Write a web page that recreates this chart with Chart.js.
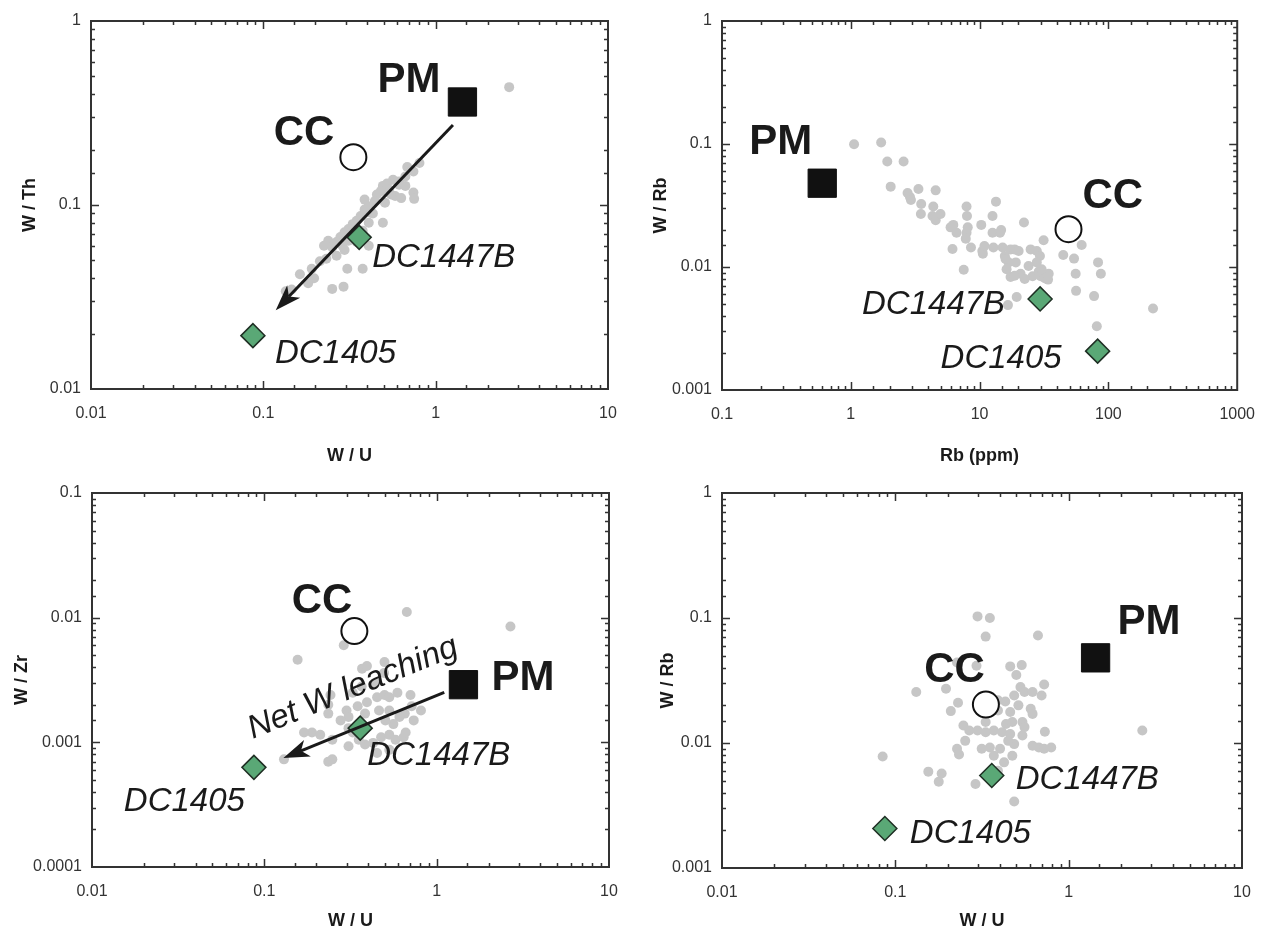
<!DOCTYPE html>
<html>
<head>
<meta charset="utf-8">
<script src="https://cdn.jsdelivr.net/npm/chart.js@4.4.1/dist/chart.umd.min.js"></script>
<style>
  body { margin: 0; background: #fff; }
  #wrap { position: relative; width: 1270px; height: 930px; }
  .panel { position: absolute; width: 635px; height: 465px; }
</style>
</head>
<body>
<div id="wrap">
  <div class="panel" style="left:0;top:0"><canvas id="c1" width="635" height="465"></canvas></div>
  <div class="panel" style="left:635px;top:0"><canvas id="c2" width="635" height="465"></canvas></div>
  <div class="panel" style="left:0;top:465px"><canvas id="c3" width="635" height="465"></canvas></div>
  <div class="panel" style="left:635px;top:465px"><canvas id="c4" width="635" height="465"></canvas></div>
</div>
<script>
// reference compositions: primitive mantle, continental crust, two samples
const refNames = ['PM', 'CC', 'DC1447B', 'DC1405'];
const refWU  = [1.43, 0.333, 0.36, 0.087];
const refWTh = [0.363, 0.182, 0.0667, 0.0195];
const refRb  = [0.6, 49, 29.5, 82.5];
const refWRb = [0.048, 0.0203, 0.0055, 0.00207];
const refWZr = [0.0029, 0.0078, 0.0013, 0.00063];

// whole-rock samples, W/U vs W/Th
const p1WU = [2.67,0.805,0.684,0.743,0.667,0.614,0.566,0.522,0.494,0.536,0.481,0.456,0.614,0.667,0.582,0.631,0.743,0.75,0.444,0.409,
  0.387,0.421,0.367,0.348,0.33,0.312,0.296,0.33,0.312,0.348,0.28,0.266,0.238,0.225,0.251,0.288,0.409,0.432,0.494,0.409,
  0.377,0.232,0.213,0.191,0.163,0.197,0.182,0.146,0.135,0.307,0.377,0.251,0.292,0.266,0.296,0.338,0.387,0.508,0.551];
const p1WTh = [0.437,0.169,0.161,0.152,0.143,0.134,0.137,0.131,0.127,0.121,0.119,0.114,0.129,0.127,0.112,0.109,0.117,0.108,0.105,0.0986,
  0.0946,0.0908,0.0871,0.082,0.0787,0.074,0.071,0.068,0.064,0.063,0.067,0.063,0.064,0.060,0.059,0.060,0.060,0.090,0.080,0.080,
  0.0725,0.051,0.0495,0.045,0.042,0.040,0.0376,0.0347,0.034,0.045,0.045,0.035,0.036,0.053,0.057,0.074,0.107,0.103,0.114];

// Rb (ppm) vs W/Rb
const p2Rb = [1.06,1.72,1.92,2.57,2.04,2.76,3.35,2.88,2.93,3.52,3.50,4.56,4.37,4.31,4.56,4.97,5.95,6.25,6.62,6.16,
  7.92,7.98,8.09,7.92,7.81,7.53,8.57,10.3,10.5,10.6,12.6,12.6,13.4,14.4,14.7,10.9,12.8,15.1,17.4,18.7,
  22.1,20.1,24.9,31.4,27.8,29.4,15.7,16.8,16.2,19.1,17.4,20.8,24.0,25.8,29.8,32.1,34.0,28.8,34.4,19.4,
  16.6,44.6,54.1,55.7,62.0,56.1,83.1,87.4,77.4,81.3,222,22.4,18.7,15.9,27.8,30.3];
const p2WRb = [0.0996,0.103,0.072,0.072,0.045,0.040,0.043,0.037,0.035,0.0325,0.027,0.042,0.031,0.026,0.024,0.027,0.021,0.022,0.019,0.014,
  0.031,0.026,0.021,0.019,0.017,0.0095,0.0144,0.022,0.0135,0.0128,0.019,0.026,0.034,0.019,0.020,0.0148,0.0144,0.0144,0.0139,0.0139,
  0.023,0.0135,0.0139,0.0165,0.0135,0.0123,0.0123,0.0109,0.0096,0.0109,0.0083,0.0088,0.0102,0.0084,0.0084,0.0081,0.0079,0.0092,0.0088,0.0057,
  0.0049,0.0125,0.0117,0.0088,0.0151,0.0064,0.0109,0.0088,0.0058,0.0033,0.0046,0.008,0.0085,0.0116,0.0109,0.0096];

// W/U vs W/Zr
const p3WU = [0.671,2.68,0.156,0.289,0.369,0.394,0.498,0.495,0.44,0.367,0.326,0.242,0.235,0.30,0.348,0.394,0.451,0.498,0.531,0.592,
  0.705,0.716,0.811,0.736,0.653,0.608,0.561,0.504,0.531,0.463,0.384,0.308,0.277,0.308,0.326,0.353,0.308,0.384,0.428,0.476,
  0.531,0.577,0.643,0.661,0.531,0.451,0.189,0.211,0.17,0.248,0.235,0.248,0.13,0.235];
const p3WZr = [0.0111,0.0085,0.0046,0.006,0.0039,0.0041,0.0044,0.0036,0.003,0.0028,0.0025,0.0024,0.002,0.0018,0.00195,0.0021,0.0023,0.0024,0.0023,0.0025,
  0.0024,0.00195,0.0018,0.0015,0.0017,0.0016,0.0014,0.0015,0.0018,0.0018,0.0017,0.0016,0.0015,0.0013,0.0012,0.00105,0.00093,0.00096,0.00099,0.0011,
  0.00115,0.00105,0.0011,0.0012,0.00087,0.00082,0.0012,0.00115,0.0012,0.00105,0.0007,0.00073,0.00073,0.0017];

// W/U vs W/Rb
const p4WU = [0.298,0.351,0.332,0.665,0.227,0.132,0.196,0.23,0.209,0.294,0.46,0.536,0.499,0.527,0.485,0.431,0.556,0.619,0.722,0.698,
  0.604,0.619,0.513,0.46,0.391,0.435,0.473,0.541,0.556,0.391,0.341,0.247,0.267,0.298,0.332,0.37,0.413,0.46,0.541,0.619,
  0.673,0.729,0.793,0.722,0.485,0.402,0.351,0.315,0.227,0.233,0.37,0.473,0.424,0.391,0.351,0.29,0.485,0.155,0.178,0.185,
  0.0845,2.66,0.332,0.448,0.253];
const p4WRb = [0.103,0.100,0.071,0.0725,0.044,0.0256,0.0272,0.021,0.018,0.0415,0.041,0.042,0.035,0.028,0.024,0.0215,0.0256,0.0256,0.0294,0.024,
  0.0188,0.0171,0.020,0.0177,0.0182,0.0142,0.0147,0.0147,0.0134,0.022,0.020,0.0138,0.0126,0.0126,0.0122,0.0126,0.0122,0.0118,0.0115,0.0095,
  0.0092,0.0123,0.0092,0.009,0.0098,0.009,0.0092,0.009,0.009,0.0081,0.0079,0.0079,0.007,0.006,0.0058,0.0047,0.0034,0.0059,0.0049,0.0057,
  0.0078,0.0126,0.0147,0.0104,0.0104];

// leaching trend arrows, [start, end] in data units
const arrowWTh = [[1.26, 0.272], [0.118, 0.0268]];
const arrowWZr = [[1.107, 0.00252], [0.129, 0.000748]];

const FONT = "'Liberation Sans', Arial, Helvetica, sans-serif";
const INK = '#1a1a1a';
const GREEN = '#5aa876';
const GREY = '#c6c6c6';

const pairs = (xs, ys) => xs.map((x, i) => ({ x, y: ys[i] }));

function decadeLabel(v) {
  const l = Math.log10(v), e = Math.round(l);
  if (Math.abs(l - e) > 1e-6) return '';
  return e < 0 ? Math.pow(10, e).toFixed(-e) : String(Math.pow(10, e));
}

function logAxis(min, max, title, titlePad, size, horizontal) {
  return {
    type: 'logarithmic', min, max,
    grid: { display: false, drawTicks: false },
    border: { display: false },
    ticks: {
      autoSkip: false, maxRotation: 0, padding: horizontal ? 15 : 10,
      color: '#333', font: { family: FONT, size: 16 },
      callback: decadeLabel
    },
    title: {
      display: true, text: title, color: INK,
      font: { family: FONT, size: 18, weight: 'bold', lineHeight: 1 },
      padding: { top: titlePad, bottom: 0 }
    },
    afterFit(scale) {
      if (horizontal) scale.height = size; else scale.width = size;
    }
  };
}

// frame with inward minor/major ticks, arrows and text tags
const decor = {
  id: 'decor',
  afterDatasetsDraw(chart) {
    const ctx = chart.ctx;
    const { left, right, top, bottom } = chart.chartArea;
    const xs = chart.scales.x, ys = chart.scales.y;
    const isDecade = v => Math.abs(Math.log10(v) - Math.round(Math.log10(v))) < 1e-6;
    ctx.save();
    ctx.strokeStyle = '#333';
    ctx.lineWidth = 1.5;
    ctx.beginPath();
    xs.ticks.forEach(t => {
      const px = Math.round(xs.getPixelForValue(t.value)) + 0.5;
      if (px < left + 2 || px > right - 2) return;
      const len = isDecade(t.value) ? 8 : 4;
      ctx.moveTo(px, bottom); ctx.lineTo(px, bottom - len);
      ctx.moveTo(px, top); ctx.lineTo(px, top + len);
    });
    ys.ticks.forEach(t => {
      const py = Math.round(ys.getPixelForValue(t.value)) + 0.5;
      if (py < top + 2 || py > bottom - 2) return;
      const len = isDecade(t.value) ? 8 : 4;
      ctx.moveTo(left, py); ctx.lineTo(left + len, py);
      ctx.moveTo(right, py); ctx.lineTo(right - len, py);
    });
    ctx.stroke();
    ctx.lineWidth = 2;
    ctx.strokeRect(left, top, right - left, bottom - top);

    const notes = panelNotes[chart.canvas.id];
    ctx.fillStyle = INK;
    ctx.strokeStyle = INK;
    if (notes.arrow) {
      const [[ax0, ay0], [ax1, ay1]] = notes.arrow;
      const x0 = xs.getPixelForValue(ax0), y0 = ys.getPixelForValue(ay0);
      const x1 = xs.getPixelForValue(ax1), y1 = ys.getPixelForValue(ay1);
      const a = Math.atan2(y1 - y0, x1 - x0);
      const head = 26, half = 9, notch = 7;
      const bx = x1 - head * Math.cos(a), by = y1 - head * Math.sin(a);
      const nx = x1 - (head - notch) * Math.cos(a), ny = y1 - (head - notch) * Math.sin(a);
      ctx.lineWidth = 3;
      ctx.beginPath(); ctx.moveTo(x0, y0); ctx.lineTo(nx, ny); ctx.stroke();
      ctx.beginPath();
      ctx.moveTo(x1, y1);
      ctx.lineTo(bx + half * Math.sin(a), by - half * Math.cos(a));
      ctx.lineTo(nx, ny);
      ctx.lineTo(bx - half * Math.sin(a), by + half * Math.cos(a));
      ctx.closePath();
      ctx.fill();
      if (notes.arrowText) {
        const t = notes.arrowText;
        ctx.save();
        ctx.translate((x0 + x1) / 2 + t.dx, (y0 + y1) / 2 + t.dy);
        ctx.rotate(Math.atan2(y0 - y1, x0 - x1));
        ctx.font = `italic 33px ${FONT}`;
        ctx.textAlign = 'center';
        ctx.textBaseline = 'middle';
        ctx.fillText(t.text, 0, 0);
        ctx.restore();
      }
    }
    notes.tags.forEach(tag => {
      const el = chart.getDatasetMeta(tag.ds).data[tag.i];
      ctx.font = tag.big ? `bold 42px ${FONT}` : `italic 33px ${FONT}`;
      ctx.textAlign = tag.align;
      ctx.textBaseline = 'alphabetic';
      ctx.fillText(tag.text, el.x + tag.dx, el.y + tag.dy);
    });
    ctx.restore();
  }
};

// tag offsets in px from each marker; ds 0 = PM, 1 = CC, 2 = samples DC1447B/DC1405
const panelNotes = {
  c1: {
    arrow: arrowWTh,
    tags: [
      { ds: 0, i: 0, text: refNames[0], big: true, align: 'right', dx: -22, dy: -10 },
      { ds: 1, i: 0, text: refNames[1], big: true, align: 'right', dx: -19, dy: -12 },
      { ds: 2, i: 0, text: refNames[2], align: 'left', dx: 13, dy: 30 },
      { ds: 2, i: 1, text: refNames[3], align: 'left', dx: 22, dy: 27 }
    ]
  },
  c2: {
    tags: [
      { ds: 0, i: 0, text: refNames[0], big: true, align: 'right', dx: -10, dy: -29 },
      { ds: 1, i: 0, text: refNames[1], big: true, align: 'left', dx: 14, dy: -21 },
      { ds: 2, i: 0, text: refNames[2], align: 'right', dx: -35, dy: 15 },
      { ds: 2, i: 1, text: refNames[3], align: 'right', dx: -36, dy: 17 }
    ]
  },
  c3: {
    arrow: arrowWZr,
    arrowText: { text: 'Net W leaching', dx: -11, dy: -37 },
    tags: [
      { ds: 0, i: 0, text: refNames[0], big: true, align: 'left', dx: 28, dy: 5 },
      { ds: 1, i: 0, text: refNames[1], big: true, align: 'right', dx: -2, dy: -18 },
      { ds: 2, i: 0, text: refNames[2], align: 'left', dx: 7, dy: 37 },
      { ds: 2, i: 1, text: refNames[3], align: 'right', dx: -9, dy: 44 }
    ]
  },
  c4: {
    tags: [
      { ds: 0, i: 0, text: refNames[0], big: true, align: 'left', dx: 22, dy: -24 },
      { ds: 1, i: 0, text: refNames[1], big: true, align: 'right', dx: -1, dy: -23 },
      { ds: 2, i: 0, text: refNames[2], align: 'left', dx: 24, dy: 14 },
      { ds: 2, i: 1, text: refNames[3], align: 'left', dx: 25, dy: 14 }
    ]
  }
};

function makePanel(id, refX, refY, sx, sy, xr, yr, xTitle, yTitle, lay) {
  new Chart(document.getElementById(id), {
    type: 'scatter',
    data: {
      datasets: [
        { label: 'PM', data: [{ x: refX[0], y: refY[0] }], pointStyle: 'rect', pointRadius: 20,
          backgroundColor: '#111', borderColor: '#111', borderWidth: 1, order: 1 },
        { label: 'CC', data: [{ x: refX[1], y: refY[1] }], pointStyle: 'circle', pointRadius: 13,
          backgroundColor: '#fff', borderColor: '#111', borderWidth: 2, order: 1 },
        { label: 'samples', data: [{ x: refX[2], y: refY[2] }, { x: refX[3], y: refY[3] }], pointStyle: 'rectRot',
          pointRadius: 12, backgroundColor: GREEN, borderColor: '#1f2f24', borderWidth: 1.5, order: 1 },
        { label: 'rocks', data: pairs(sx, sy), pointRadius: 5, backgroundColor: GREY, borderWidth: 0, order: 3 }
      ]
    },
    options: {
      responsive: false,
      animation: false,
      events: [],
      layout: { padding: { left: 0, right: lay.right, top: lay.top, bottom: 0 } },
      plugins: { legend: { display: false }, tooltip: { enabled: false } },
      scales: {
        x: logAxis(xr[0], xr[1], xTitle, lay.xPad, lay.h, true),
        y: logAxis(yr[0], yr[1], yTitle, lay.yPad, lay.w, false)
      }
    },
    plugins: [decor]
  });
}

makePanel('c1', refWU, refWTh, p1WU, p1WTh, [0.01, 10], [0.01, 1], 'W / U', 'W / Th',
  { w: 91, h: 76, right: 27, top: 15, xPad: 16, yPad: 21 });
makePanel('c2', refRb, refWRb, p2Rb, p2WRb, [0.1, 1000], [0.001, 1], 'Rb (ppm)', 'W / Rb',
  { w: 87, h: 75, right: 28, top: 15, xPad: 16, yPad: 17 });
makePanel('c3', refWU, refWZr, p3WU, p3WZr, [0.01, 10], [0.0001, 0.1], 'W / U', 'W / Zr',
  { w: 92, h: 63, right: 26, top: 28, xPad: 2, yPad: 13 });
makePanel('c4', refWU, refWRb, p4WU, p4WRb, [0.01, 10], [0.001, 1], 'W / U', 'W / Rb',
  { w: 87, h: 62, right: 28, top: 28, xPad: 2, yPad: 24 });
</script>
</body>
</html>
